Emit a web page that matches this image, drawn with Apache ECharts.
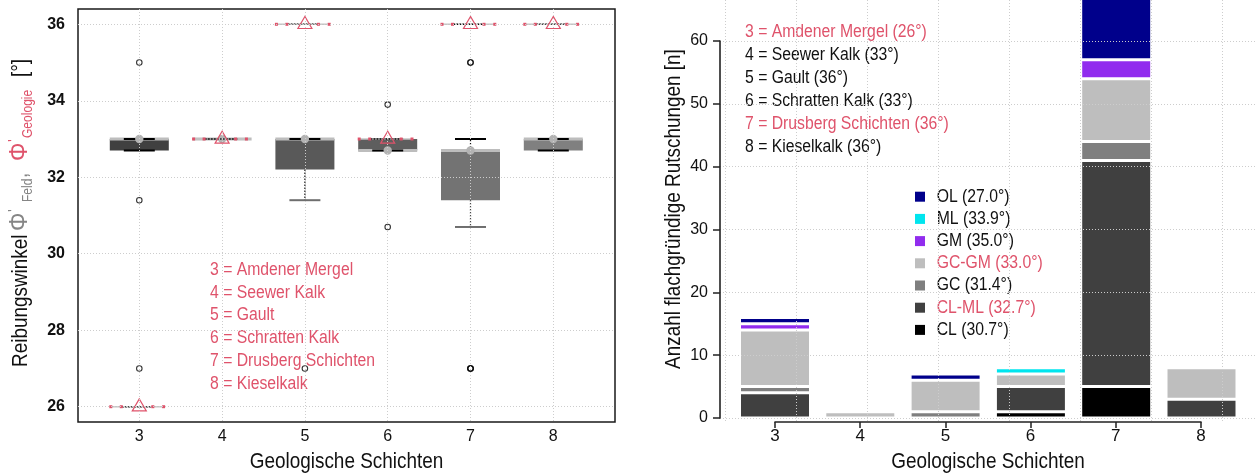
<!DOCTYPE html>
<html>
<head>
<meta charset="utf-8">
<script src="https://cdn.jsdelivr.net/npm/echarts@6/dist/echarts.min.js"></script>
<style>
html,body{margin:0;padding:0;background:#ffffff;}
#c{width:1255px;height:476px;}
</style>
</head>
<body>
<div id="c"></div>
<script>
// ---------------- data ----------------
const categories = ['3', '4', '5', '6', '7', '8'];

// left panel: field friction angle boxplots (Phi'_Feld)
const feldLower  = [32.7, 33.0, 31.4, 32.7, 30.7, 32.7];
const feldQ1     = [32.7, 33.0, 32.2, 32.7, 31.4, 32.7];
const feldMedian = [33.0, 33.0, 33.0, 32.7, 32.7, 33.0];
const feldQ3     = [33.0, 33.0, 33.0, 33.0, 32.7, 33.0];
const feldUpper  = [33.0, 33.0, 33.0, 33.0, 33.0, 33.0];
const outlierCat = ['3', '3', '3', '5', '6', '6', '7', '7', '7', '7', '7'];
const outlierVal = [35, 31.4, 27, 27, 33.9, 30.7, 35, 35, 27, 27, 27];
// geological friction angle (Phi'_Geologie)
const geologyValue = [26, 33, 36, 33, 36, 36];
const leftYTicks = [26, 28, 30, 32, 34, 36];
const geologyNames = ['3 = Amdener Mergel', '4 = Seewer Kalk', '5 = Gault',
  '6 = Schratten Kalk', '7 = Drusberg Schichten', '8 = Kieselkalk'];

// right panel: counts of shallow landslides per soil class
const soilTypes  = ['CL', 'CL-ML', 'GC', 'GC-GM', 'GM', 'ML', 'OL'];
const soilAngles = ['30.7°', '32.7°', '31.4°', '33.0°', '35.0°', '33.9°', '27.0°'];
const countCL   = [0, 0, 0, 1, 5, 0];
const countCLML = [4, 0, 0, 4, 36, 3];
const countGC   = [1, 0, 1, 0, 3, 0];
const countGCGM = [9, 1, 5, 2, 10, 5];
const countGM   = [1, 0, 0, 0, 3, 0];
const countML   = [0, 0, 0, 1, 0, 0];
const countOL   = [1, 0, 1, 0, 11, 0];
const geologyAngleNames = ['3 = Amdener Mergel (26°)', '4 = Seewer Kalk (33°)', '5 = Gault (36°)',
  '6 = Schratten Kalk (33°)', '7 = Drusberg Schichten (36°)', '8 = Kieselkalk (36°)'];

// ---------------- styles ----------------
const FONT = '"Liberation Sans", Arial, sans-serif';
const RED = '#DF536B';
const DARK = '#111111';
const GRIDLINE = {color: '#cdcdcd', type: [1, 2], width: 1};
const boxFill = ['#404040', '#4d4d4d', '#595959', '#5e5e5e', '#737373', '#808080'];
const soilColors = ['#000000', '#404040', '#7f7f7f', '#bebebe', '#912CEE', '#00E5EE', '#00008B'];
const soilLabelColors = [DARK, RED, DARK, RED, DARK, DARK, DARK];
const geoLeftColors = [RED, RED, RED, RED, RED, RED];
const geoRightColors = [RED, DARK, DARK, DARK, RED, DARK];
const soilCounts = [countCL, countCLML, countGC, countGCGM, countGM, countML, countOL];
const LEG_SIZE = 17.5, LEG_SCALE = 0.9;   // narrow legend text
const TTL_SIZE = 22, TTL_SCALE = 0.86;    // narrow axis titles

// ---------------- render functions ----------------
function renderFeldBox(params, api) {
  const i = params.dataIndex;
  const xi = api.value(0);
  const yLow = api.coord([xi, api.value(1)])[1];
  const yQ1 = api.coord([xi, api.value(2)])[1];
  const pMed = api.coord([xi, api.value(3)]);
  const yQ3 = api.coord([xi, api.value(4)])[1];
  const yUp = api.coord([xi, api.value(5)])[1];
  const cx = pMed[0];
  const half = 29.5, cap = 15.5;
  const fill = boxFill[i];
  const ch = [];
  const dotted = {stroke: '#111', lineWidth: 1.2, lineDash: [1.5, 1.5]};
  if (yQ3 - yUp > 0.5) ch.push({type: 'line', shape: {x1: cx, y1: yQ3, x2: cx, y2: yUp}, style: dotted});
  if (yLow - yQ1 > 0.5) ch.push({type: 'line', shape: {x1: cx, y1: yQ1, x2: cx, y2: yLow}, style: dotted});
  if (yQ1 - yQ3 > 0.5) ch.push({type: 'rect', shape: {x: cx - half, y: yQ3, width: 2 * half, height: yQ1 - yQ3}, style: {fill: fill}});
  ch.push({type: 'line', shape: {x1: cx - half, y1: pMed[1], x2: cx + half, y2: pMed[1]}, style: {stroke: '#bdbdbd', lineWidth: 3}});
  ch.push({type: 'line', shape: {x1: cx - cap, y1: yUp, x2: cx + cap, y2: yUp}, style: {stroke: '#000', lineWidth: 2}});
  ch.push({type: 'line', shape: {x1: cx - cap, y1: yLow, x2: cx + cap, y2: yLow},
    style: {stroke: (yLow - yQ1 > 0.5) ? '#6e6e6e' : '#000', lineWidth: 2}});
  ch.push({type: 'circle', shape: {cx: cx, cy: pMed[1], r: 4.2}, style: {fill: '#b3b3b3'}});
  return {type: 'group', children: ch};
}

function renderGeology(params, api) {
  const p = api.coord([api.value(0), api.value(1)]);
  const cx = p[0], cy = p[1];
  const ch = [];
  ch.push({type: 'line', shape: {x1: cx - 28, y1: cy, x2: cx + 25, y2: cy}, style: {stroke: '#c4c4c4', lineWidth: 1.5}});
  ch.push({type: 'line', shape: {x1: cx - 17, y1: cy, x2: cx + 14, y2: cy}, style: {stroke: '#111', lineWidth: 1.5, lineDash: [1.5, 1.5]}});
  [-28.5, -18, 13.5, 24.3].forEach(function (d) {
    ch.push({type: 'rect', shape: {x: cx + d - 1.5, y: cy - 1.5, width: 3, height: 3}, style: {fill: RED}});
  });
  ch.push({type: 'polygon', shape: {points: [[cx, cy - 7.8], [cx - 7, cy + 4.2], [cx + 7, cy + 4.2]]},
    style: {fill: 'none', stroke: RED, lineWidth: 1.2}});
  return {type: 'group', children: ch};
}

// ---------------- graphic texts ----------------
const graphics = [];
function txt(text, x, y, size, color, opts) {
  opts = opts || {};
  graphics.push({
    type: 'text', x: x, y: y, rotation: opts.rot ? Math.PI / 2 : 0, scaleX: opts.sx || 1, silent: true,
    style: {text: text, fill: color, fontSize: size, fontFamily: FONT, fontWeight: opts.weight || 'normal',
      align: opts.align || 'left', verticalAlign: 'middle'}
  });
}
geologyNames.forEach(function (s, i) { txt(s, 210, 270 + 22.8 * i, LEG_SIZE, geoLeftColors[i], {sx: LEG_SCALE}); });
geologyAngleNames.forEach(function (s, i) { txt(s, 745, 32.5 + 22.85 * i, LEG_SIZE, geoRightColors[i], {sx: LEG_SCALE}); });
for (let r = 0; r < soilTypes.length; r++) {
  const k = soilTypes.length - 1 - r;
  const yc = 196.7 + 22.2 * r;
  graphics.push({type: 'rect', silent: true, shape: {x: 915, y: yc - 5, width: 10, height: 10}, style: {fill: soilColors[k]}});
  txt(soilTypes[k] + ' (' + soilAngles[k] + ')', 936.7, yc, LEG_SIZE, soilLabelColors[k], {sx: LEG_SCALE});
}
txt('Geologische Schichten', 346.5, 461.7, TTL_SIZE, DARK, {align: 'center', sx: TTL_SCALE});
txt('Geologische Schichten', 988, 461.7, TTL_SIZE, DARK, {align: 'center', sx: TTL_SCALE});
txt('Anzahl flachgründige Rutschungen [n]', 674, 209, TTL_SIZE, DARK, {align: 'center', rot: true, sx: TTL_SCALE});
// left y title pieces (rotated, reading upward)
const GRAY_T = '#858585';
txt('Reibungswinkel', 20.7, 367, TTL_SIZE, DARK, {rot: true, sx: TTL_SCALE});
txt('Φ', 20.2, 231, 25, GRAY_T, {rot: true, sx: 0.92});
txt("'", 13.5, 212, 15, GRAY_T, {rot: true});
txt('Feld', 28, 202, 14, GRAY_T, {rot: true, sx: TTL_SCALE});
txt(',', 20.7, 178, TTL_SIZE, GRAY_T, {rot: true, sx: TTL_SCALE});
txt('Φ', 20.2, 161, 25, RED, {rot: true, sx: 0.92});
txt("'", 13.5, 142, 15, RED, {rot: true});
txt('Geologie', 28, 138, 14, RED, {rot: true, sx: TTL_SCALE});
txt('[°]', 20.7, 77, TTL_SIZE, DARK, {rot: true, sx: TTL_SCALE});

// ---------------- option ----------------
const hiddenVal = function (gi) { return {type: 'value', gridIndex: gi, show: false}; };
const option = {
  animation: false,
  backgroundColor: '#ffffff',
  textStyle: {fontFamily: FONT},
  grid: [
    {left: 78, top: 9, width: 537, height: 413, show: true, borderColor: '#1a1a1a', borderWidth: 1.5, backgroundColor: 'transparent', outerBoundsMode: 'none'},
    {left: 78, top: 24.3, width: 537, height: 382.4, outerBoundsMode: 'none'},
    {left: 139.3, top: 9, width: 414, height: 413, outerBoundsMode: 'none'},
    {left: 732.35, top: 41, width: 511.8, height: 377, outerBoundsMode: 'none'},
    {left: 720, top: 41, width: 535, height: 377, outerBoundsMode: 'none'},
    {left: 775, top: 421, width: 426, height: 1, outerBoundsMode: 'none'},
    {left: 725, top: 0, width: 497, height: 422, outerBoundsMode: 'none'}
  ],
  xAxis: [
    hiddenVal(0),
    hiddenVal(1),
    {type: 'category', gridIndex: 2, data: categories, boundaryGap: false, z: 5,
      axisLine: {show: false}, axisTick: {show: false},
      axisLabel: {show: true, interval: 0, margin: 6.5, fontSize: 16, color: DARK, fontFamily: FONT},
      splitLine: {show: true, interval: 0, lineStyle: GRIDLINE}},
    {type: 'category', gridIndex: 3, data: categories, show: false},
    hiddenVal(4),
    {type: 'category', gridIndex: 5, data: categories, boundaryGap: false, position: 'bottom',
      axisLine: {show: true, lineStyle: {color: '#222', width: 1.6}},
      axisTick: {show: true, length: 6, interval: 0, lineStyle: {color: '#222', width: 1.5}},
      axisLabel: {show: true, interval: 0, margin: 6, fontSize: 17, color: DARK, fontFamily: FONT},
      splitLine: {show: false}},
    {type: 'value', gridIndex: 6, min: 0, max: 7, interval: 1, z: 5,
      axisLine: {show: false}, axisTick: {show: false}, axisLabel: {show: false},
      splitLine: {show: true, lineStyle: GRIDLINE}}
  ],
  yAxis: [
    hiddenVal(0),
    {type: 'value', gridIndex: 1, min: leftYTicks[0], max: leftYTicks[leftYTicks.length - 1], interval: 2, z: 5,
      axisLine: {show: false}, axisTick: {show: false},
      axisLabel: {show: true, margin: 13, fontSize: 16, fontWeight: 'bold', color: DARK, fontFamily: FONT},
      splitLine: {show: true, lineStyle: GRIDLINE}},
    {type: 'value', gridIndex: 2, min: 25.6, max: 36.4, show: false},
    {type: 'value', gridIndex: 3, min: 0, max: 60, show: false},
    {type: 'value', gridIndex: 4, min: 0, max: 60, interval: 10, z: 5,
      axisLine: {show: true, lineStyle: {color: '#222', width: 1.6}},
      axisTick: {show: true, length: 7, lineStyle: {color: '#222', width: 1.5}},
      axisLabel: {show: true, margin: 12, fontSize: 16, color: DARK, fontFamily: FONT},
      splitLine: {show: true, lineStyle: GRIDLINE}},
    hiddenVal(5),
    hiddenVal(6)
  ],
  series: [
    {type: 'custom', name: 'Feld', xAxisIndex: 2, yAxisIndex: 2, renderItem: renderFeldBox,
      encode: {x: 0, y: [1, 2, 3, 4, 5]},
      data: categories.map(function (c, i) { return [i, feldLower[i], feldQ1[i], feldMedian[i], feldQ3[i], feldUpper[i]]; })},
    {type: 'scatter', name: 'Ausreisser', xAxisIndex: 2, yAxisIndex: 2, symbol: 'circle', symbolSize: 5.5,
      itemStyle: {color: 'rgba(0,0,0,0)', borderColor: '#000', borderWidth: 1.1},
      data: outlierCat.map(function (c, k) { return [categories.indexOf(c), outlierVal[k]]; })},
    {type: 'custom', name: 'Geologie', xAxisIndex: 2, yAxisIndex: 2, renderItem: renderGeology,
      encode: {x: 0, y: 1},
      data: geologyValue.map(function (v, i) { return [i, v]; })}
  ].concat(soilTypes.map(function (s, k) {
    return {
      type: 'bar', name: s, stack: 'n', xAxisIndex: 3, yAxisIndex: 3, barWidth: 71, clip: false,
      itemStyle: {color: soilColors[k], borderColor: '#ffffff', borderWidth: 1.5},
      data: soilCounts[k].map(function (v) { return v === 0 ? null : v; })
    };
  })),
  graphic: graphics
};

const chart = echarts.init(document.getElementById('c'), null, {renderer: 'canvas'});
chart.setOption(option);
</script>
</body>
</html>
